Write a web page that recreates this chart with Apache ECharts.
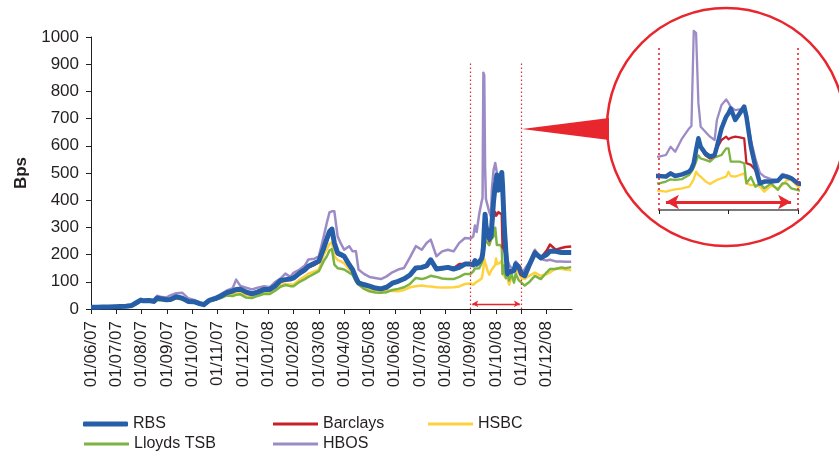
<!DOCTYPE html>
<html>
<head>
<meta charset="utf-8">
<script src="https://cdn.jsdelivr.net/npm/echarts@6/dist/echarts.min.js"></script>
<style>
html,body{margin:0;padding:0;background:#fff;}
#chart{width:839px;height:452px;}
</style>
</head>
<body>
<div id="chart"></div>
<script>
// ---- Data ----
const monthLabels = ['01/06/07','01/07/07','01/08/07','01/09/07','01/10/07','01/11/07','01/12/07',
  '01/01/08','01/02/08','01/03/08','01/04/08','01/05/08','01/06/08','01/07/08','01/08/08',
  '01/09/08','01/10/08','01/11/08','01/12/08'];

const dates = [
  // 2007
  '2007-06-01','2007-06-08','2007-06-15','2007-06-22','2007-06-29',
  '2007-07-06','2007-07-13','2007-07-20','2007-07-25','2007-07-31',
  '2007-08-03','2007-08-10','2007-08-16','2007-08-20','2007-08-24','2007-08-31',
  '2007-09-05','2007-09-12','2007-09-19','2007-09-26',
  '2007-10-03','2007-10-10','2007-10-15','2007-10-22','2007-10-29',
  '2007-11-05','2007-11-12','2007-11-19','2007-11-23','2007-11-28',
  '2007-12-05','2007-12-12','2007-12-19','2007-12-27',
  // 2008 Jan-Aug
  '2008-01-03','2008-01-09','2008-01-16','2008-01-22','2008-01-28',
  '2008-02-01','2008-02-08','2008-02-14','2008-02-18','2008-02-25',
  '2008-03-01','2008-03-07','2008-03-11','2008-03-14','2008-03-17','2008-03-20','2008-03-24','2008-03-28',
  '2008-04-01','2008-04-07','2008-04-11','2008-04-15','2008-04-18','2008-04-24',
  '2008-05-01','2008-05-08','2008-05-15','2008-05-22','2008-05-29',
  '2008-06-05','2008-06-12','2008-06-19','2008-06-26',
  '2008-07-03','2008-07-09','2008-07-14','2008-07-21','2008-07-28',
  '2008-08-04','2008-08-11','2008-08-18','2008-08-25',
  // Sep-Oct 2008
  '2008-09-01','2008-09-04','2008-09-06','2008-09-08','2008-09-11','2008-09-14','2008-09-15',
  '2008-09-16','2008-09-17','2008-09-18','2008-09-19','2008-09-21','2008-09-23','2008-09-25',
  '2008-09-26','2008-09-28','2008-09-30','2008-10-01','2008-10-02','2008-10-04','2008-10-06',
  '2008-10-08','2008-10-09','2008-10-11','2008-10-13','2008-10-15','2008-10-17','2008-10-20',
  '2008-10-23','2008-10-25','2008-10-27','2008-10-29','2008-11-01',
  // Nov-Dec 2008
  '2008-11-05','2008-11-10','2008-11-17','2008-11-24','2008-12-01',
  '2008-12-05','2008-12-12','2008-12-19','2008-12-24','2008-12-31'
];

const rbs = [
  6,6,7,7,8, 9,10,13,22,33, 30,31,28,40,38,34, 35,45,40,28, 27,20,16,32,38, 48,60,66,72,73, 62,56,62,72,
  72,84,105,108,110, 114,132,145,157,168, 176,225,260,285,294,243,206,200, 194,163,145,114,96,90,
  84,77,74,80,95, 102,111,125,151, 153,159,181,147,150, 153,147,153,165,
  165,162,178,165,173,186,200, 227,291,348,307,275,259,267, 307,396,453,470,493,437,469,
  502,453,307,210,129,138,138, 142,165,162,154,129,
  122,159,206,188,200, 212,212,208,208,208
];
const barclays = [
  6,6,7,7,8, 9,10,13,21,32, 30,32,30,40,38,35, 36,46,42,30, 28,21,17,32,38, 48,58,64,70,72, 63,58,64,72,
  72,82,100,106,108, 112,128,140,152,162, 172,215,250,275,280,235,200,195, 190,160,145,120,100,92,
  85,78,76,80,95, 102,110,125,148, 150,155,175,150,152, 155,150,165,165,
  168,165,180,168,175,188,200, 225,285,330,300,265,250,260, 300,340,356,343,350,356,353,
  348,227,219,194,129,138,140, 145,162,160,152,135,
  125,155,212,188,215, 237,218,224,228,230
];
const hsbc = [
  5,5,6,6,7, 8,9,11,18,28, 27,28,26,36,35,31, 32,40,37,27, 25,19,15,29,35, 43,52,56,60,62, 52,48,55,62,
  60,70,88,92,90, 90,108,120,130,138, 145,200,220,240,245,194,180,175, 168,145,130,105,90,80,
  71,68,66,68,66, 65,70,80,84, 86,84,83,80,79, 79,80,83,92,
  94,89,95,100,105,113,129, 150,186,170,162,140,126,140, 146,154,162,186,165,162,170,
  178,129,121,121,113,89,118, 105,121,146,146,113,
  110,122,134,122,128, 134,149,147,145,142
];
const lloyds = [
  5,5,6,6,7, 8,9,12,19,29, 27,27,25,33,32,30, 31,39,35,26, 24,18,15,28,34, 40,50,48,52,54, 42,40,48,56,
  55,66,82,88,84, 84,100,110,118,130, 139,176,195,215,220,163,150,148, 145,133,125,100,90,75,
  65,61,60,62,70, 74,80,92,114, 110,115,122,118,112, 110,110,118,129,
  129,138,149,146,150,170,185, 205,235,265,250,243,235,255, 259,267,299,299,235,235,235,
  227,129,160,113,129,105,129, 97,129,129,105,97,
  86,98,122,110,135, 147,147,153,150,154
];
const hbos = [
  7,7,8,9,10, 11,12,15,25,36, 33,35,34,49,45,42, 50,58,60,40, 33,25,20,36,44, 55,68,77,108,85, 78,72,78,84,
  80,98,112,130,118, 133,145,160,182,185, 194,267,320,355,359,359,267,240, 218,231,212,212,145,130,
  118,114,110,120,135, 145,151,190,231, 218,243,255,194,212, 218,212,243,261,
  259,267,307,283,348,396,408, 869,860,520,404,380,356,340, 437,510,537,520,500,485,489,
  480,470,340,250,180,162,150, 146,175,168,160,133,
  147,169,218,184,178, 181,175,175,174,174
];

// ---- Helpers ----
function monthPos(s) {
  const [y, m, d] = s.split('-').map(Number);
  const dim = new Date(y, m, 0).getDate();
  return (y - 2007) * 12 + (m - 6) + (d - 1) / dim;
}
function pairs(vals) { return dates.map((d, i) => [monthPos(d), vals[i]]); }

const FONT = '"Liberation Sans", Arial, Helvetica, sans-serif';
const RED = '#e8262d';
const seriesDefs = [
  { name: 'HSBC', data: hsbc, color: '#fdd23e', w: 2.5, mw: 2.3 },
  { name: 'Lloyds TSB', data: lloyds, color: '#7cb342', w: 2.5, mw: 2.3 },
  { name: 'HBOS', data: hbos, color: '#9d8bc6', w: 2.5, mw: 2.3 },
  { name: 'Barclays', data: barclays, color: '#c8202a', w: 2.5, mw: 2.3 },
  { name: 'RBS', data: rbs, color: '#265ea8', w: 5, mw: 4.5 }
];

const series = [];
seriesDefs.forEach((s, i) => {
  const base = {
    name: s.name, type: 'line', symbol: 'none', showSymbol: false, animation: false,
    color: s.color, clip: true, silent: true
  };
  series.push(Object.assign({}, base, {
    xAxisIndex: 0, yAxisIndex: 0, data: pairs(s.data),
    lineStyle: { width: s.w, color: s.color, join: 'round' }
  }));
  series.push(Object.assign({}, base, {
    xAxisIndex: 1, yAxisIndex: 1, data: pairs(s.data),
    lineStyle: { width: s.mw, color: s.color, join: 'round' }
  }));
});

// marker lines (main chart): dotted verticals + arrow
series[0].markLine = {
  silent: true, animation: false, symbol: 'none', label: { show: false },
  lineStyle: { type: [1.5, 2.5], color: RED, width: 1.2 },
  data: [
    [{ coord: [15, 0] }, { coord: [15, 905] }],
    [{ coord: [17, 0] }, { coord: [17, 905] }]
  ]
};
series[2].markLine = {
  silent: true, animation: false, symbol: ['arrow', 'arrow'], symbolSize: [5, 6], label: { show: false },
  lineStyle: { type: 'solid', color: RED, width: 1.3 },
  data: [[{ coord: [15.06, 19] }, { coord: [16.94, 19] }]]
};
// marker lines (zoom circle)
series[1].markLine = {
  silent: true, animation: false, symbol: 'none', label: { show: false },
  lineStyle: { type: [2, 3], color: RED, width: 1.6 },
  data: [
    [{ coord: [15, 0] }, { coord: [15, 800] }],
    [{ coord: [17, 0] }, { coord: [17, 800] }]
  ]
};
series[3].markLine = {
  silent: true, animation: false, symbol: ['arrow', 'arrow'], symbolSize: [11, 13], label: { show: false },
  lineStyle: { type: 'solid', color: RED, width: 3 },
  data: [[{ coord: [15.1, 39] }, { coord: [16.9, 39] }]]
};

function legendCfg(name, left, top, h, icon) {
  return {
    data: [name], left: left, top: top, padding: 0, itemWidth: 45, itemHeight: h,
    selectedMode: false, icon: icon,
    textStyle: { fontFamily: FONT, fontSize: 16, color: '#231f20' }
  };
}

const option = {
  animation: false,
  backgroundColor: '#ffffff',
  textStyle: { fontFamily: FONT },
  grid: [
    { left: 91, top: 37, width: 481, height: 272 },
    { left: 659, top: 4, width: 139, height: 206 }
  ],
  xAxis: [
    {
      type: 'value', gridIndex: 0, min: 0, max: 19,
      axisLine: { show: true, lineStyle: { color: '#231f20', width: 1 } },
      axisTick: { show: true, length: 5, customValues: [0,1,2,3,4,5,6,7,8,9,10,11,12,13,14,15,16,17,18], lineStyle: { color: '#231f20' } },
      axisLabel: {
        customValues: [0,1,2,3,4,5,6,7,8,9,10,11,12,13,14,15,16,17,18],
        rotate: 90, margin: 12, fontSize: 17, color: '#231f20', fontFamily: FONT,
        formatter: v => monthLabels[Math.round(v)] || ''
      },
      splitLine: { show: false }
    },
    {
      type: 'value', gridIndex: 1, min: 15, max: 17,
      axisLine: { show: true, lineStyle: { color: '#7a7a7a', width: 2 } },
      axisTick: { show: true, length: 4, customValues: [15, 16, 17], lineStyle: { color: '#231f20', width: 1 } },
      axisLabel: { show: false },
      splitLine: { show: false }
    }
  ],
  yAxis: [
    {
      type: 'value', gridIndex: 0, min: 0, max: 1000, interval: 100,
      name: 'Bps', nameLocation: 'middle', nameGap: 60,
      nameTextStyle: { fontFamily: FONT, fontSize: 17, fontWeight: 'bold', color: '#231f20' },
      axisLine: { show: true, lineStyle: { color: '#231f20', width: 1 } },
      axisTick: { show: true, length: 5, lineStyle: { color: '#231f20' } },
      axisLabel: { margin: 12, fontSize: 17, color: '#231f20', fontFamily: FONT, formatter: v => String(v) },
      splitLine: { show: false }
    },
    {
      type: 'value', gridIndex: 1, min: 0, max: 1000, show: false,
      splitLine: { show: false }
    }
  ],
  legend: [
    legendCfg('RBS', 83, 416, 5, 'roundRect'),
    legendCfg('Barclays', 273, 416, 3, 'rect'),
    legendCfg('HSBC', 428, 416, 3, 'rect'),
    legendCfg('Lloyds TSB', 84, 436, 3, 'rect'),
    legendCfg('HBOS', 273, 436, 3, 'rect')
  ],
  graphic: [
    { type: 'circle', shape: { cx: 726, cy: 127, r: 119 }, style: { fill: 'none', stroke: RED, lineWidth: 2.5 }, silent: true, z: 1 },
    { type: 'polygon', shape: { points: [[522, 129], [609, 118], [609, 140]] }, style: { fill: RED }, silent: true, z: 1 }
  ],
  series: series
};

const chart = echarts.init(document.getElementById('chart'), null, { renderer: 'canvas' });
chart.setOption(option);
</script>
</body>
</html>
